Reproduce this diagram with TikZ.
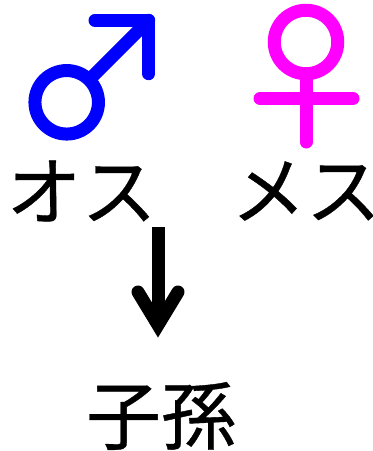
\documentclass[tikz,border=0pt]{standalone}
\usepackage{fontspec}
\setmainfont[FakeBold=0.5]{Noto Sans CJK JP}
\definecolor{malecol}{RGB}{0,0,255}
\definecolor{femalecol}{RGB}{255,0,255}
\tikzset{symline/.style={line width=13pt,line cap=round,line join=round},
  word/.style={font=\fontsize{75}{80}\selectfont,inner sep=0pt}}
\begin{document}
\begin{tikzpicture}[x=1pt,y=-1pt]
  \useasboundingbox (0,0) rectangle (373,451);

  % male
  \node[draw=malecol,line width=13pt,circle,minimum size=63.5pt,inner sep=0pt] (male) at (66.7,102.3) {};
  \coordinate (maletip) at (148.7,20.3);
  \coordinate (malea) at (95,20.3);
  \coordinate (maleb) at (148.7,73.7);
  \draw[symline,malecol] (male) -- (maletip);
  \draw[symline,malecol] (malea) -- (maletip) -- (maleb);

  % female
  \node[draw=femalecol,line width=13pt,circle,minimum size=63.5pt,inner sep=0pt] (female) at (306,42) {};
  \coordinate (femaleend) at (306,142);
  \coordinate (barl) at (260,98.5);
  \coordinate (barr) at (353,98.5);
  \draw[symline,femalecol] (female) -- (femaleend);
  \draw[symline,femalecol] (barl) -- (barr);

  % labels
  \node[word] (osu) at (81.5,191) {オス};
  \node[word] (mesu) at (306,191) {メス};
  \node[word] (shison) at (161,416) {子孫};

  \coordinate (arrowtop) at (158,227);
  \coordinate (arrowend) at (158,325);
  \coordinate (headl) at (138,292);
  \coordinate (headr) at (178,292);
  \draw[line width=13pt] (arrowtop) -- (arrowend);
  \draw[line width=13pt,line cap=round,miter limit=10] (headl) -- (arrowend) -- (headr);
\end{tikzpicture}
\end{document}
